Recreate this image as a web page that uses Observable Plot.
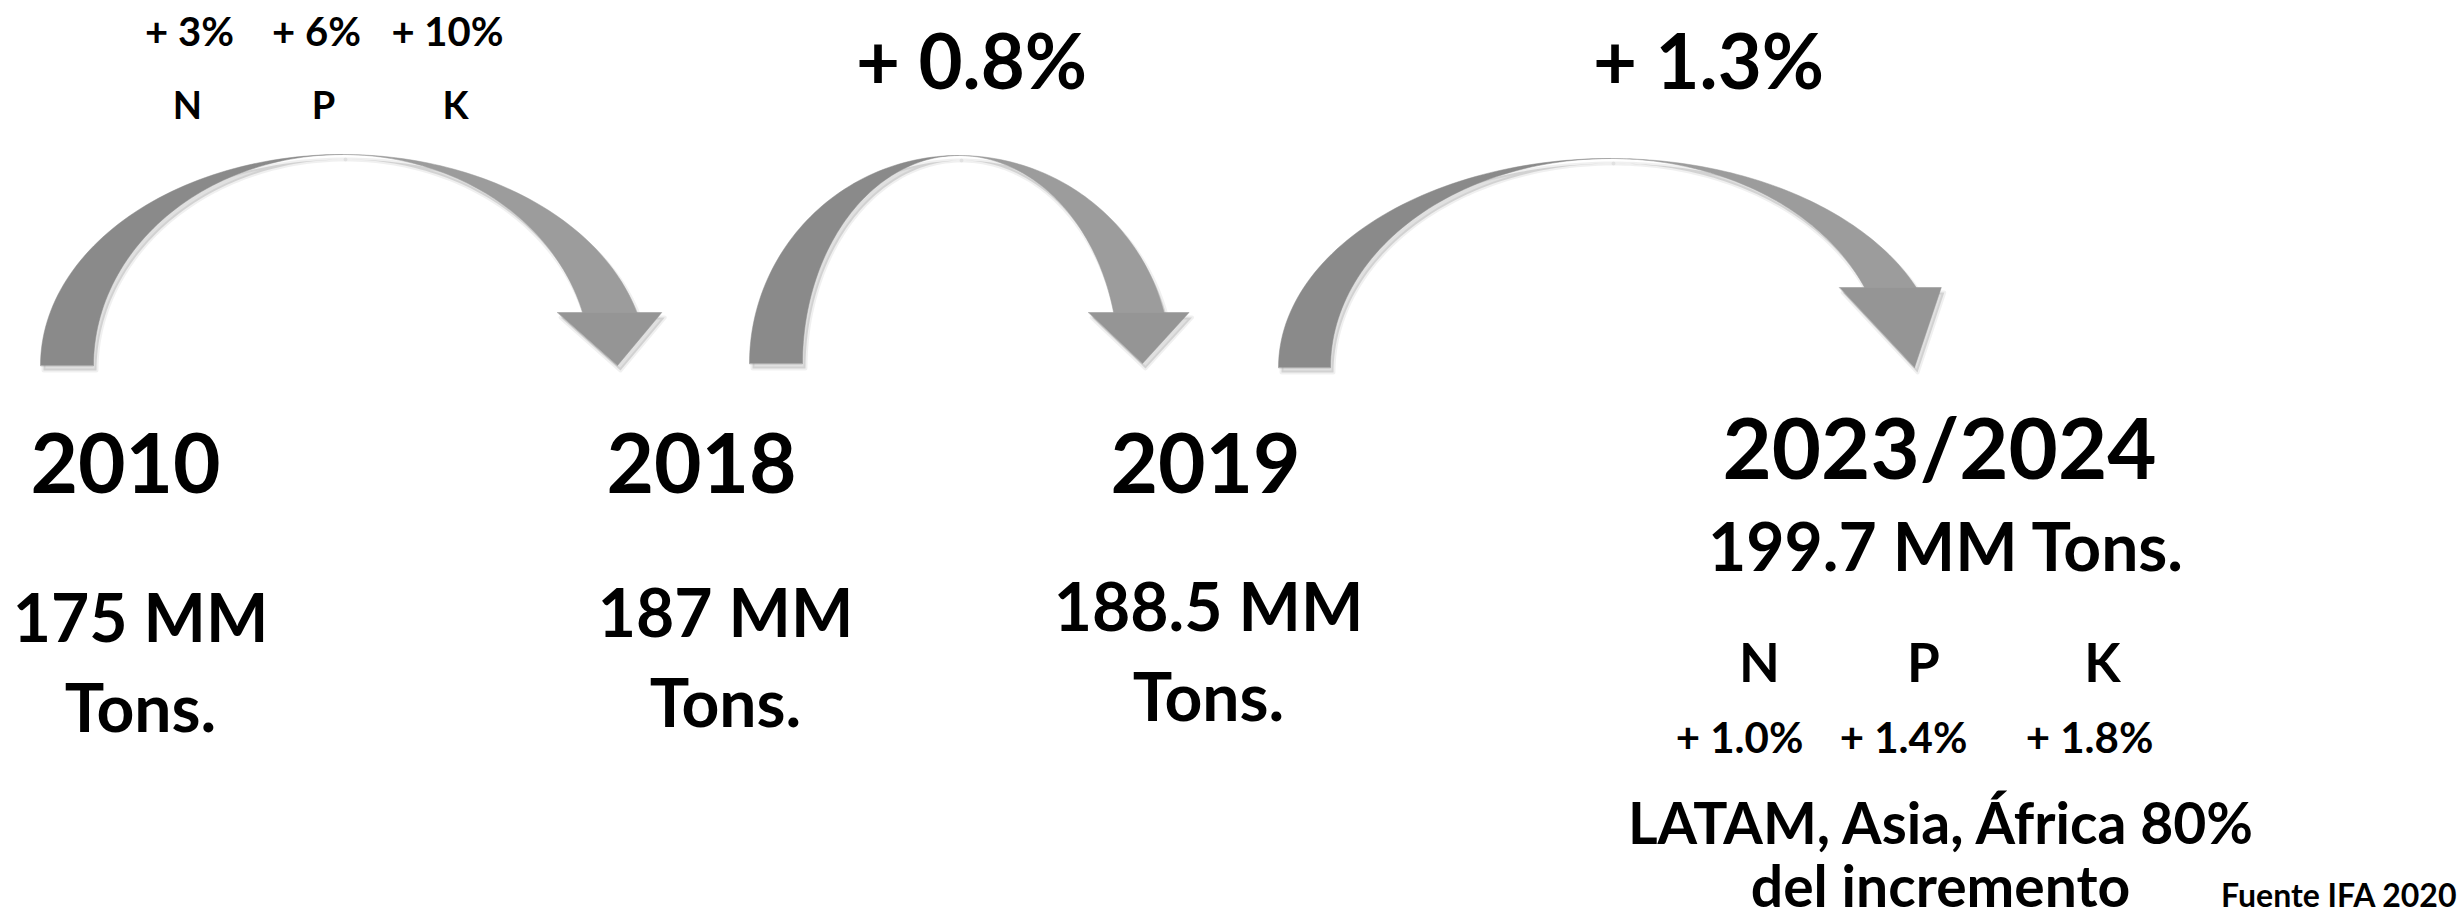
<!DOCTYPE html>
<html>
<head>
<meta charset="utf-8">
<script src="https://cdn.jsdelivr.net/npm/d3@7"></script>
<script src="https://cdn.jsdelivr.net/npm/@observablehq/plot@0.6"></script>
<style>
  html, body { margin: 0; padding: 0; background: #ffffff; }
  #chart svg { display: block; }
</style>
</head>
<body>
<div id="chart"></div>
<script>
// ---------------- data ----------------
const years = ["2010", "2018", "2019", "2023/2024"];
const tonnage = [175, 187, 188.5, 199.7];          // MM Tons.
const nutrients = ["N", "P", "K"];
const growth2010to2018 = ["+ 3%", "+ 6%", "+ 10%"]; // N, P, K
const growthTotal = ["+ 0.8%", "+ 1.3%"];          // 2018→2019, 2019→2023/2024
const growth2024 = ["+ 1.0%", "+ 1.4%", "+ 1.8%"]; // N, P, K
const noteLines = ["LATAM, Asia, África 80%", "del incremento"];
const sourceText = "Fuente IFA 2020";

// ---------------- layout (pixel space) ----------------
const W = 2461, H = 923;
const FONT = "Lato, 'Open Sans', sans-serif";
const yearX = [125, 701, 1205, 1939], yearY = [492, 492, 492, 478];
const tonX = [140, 725, 1208], tonY1 = [641, 636, 630], tonY2 = [731, 726, 720];
const ton4 = {x: 1945, y: 570};
const topPctX = [189, 316, 447], topPctY = 45;
const topNpkX = [187, 323, 455], topNpkY = 118;
const totalX = [971, 1708], totalY = 88;
const botNpkX = [1759, 1923, 2102], botNpkY = 681;
const botPctX = [1739, 1903, 2089], botPctY = 752;
const noteX = 1940, noteY = [843, 906];
const sourcePos = {x: 2456, y: 906};

// arrows: apex x, base y, vertical radius, left/right outer radii, thickness, head
const arrowLayout = [
  {cx: 342,  base: 365, ry: 211, rxL: 302, rxR: 304, tL: 53, tR: 56, headY: 312, headOut: 25, tipX: 617},
  {cx: 958,  base: 363, ry: 208, rxL: 209, rxR: 212, tL: 53, tR: 52, headY: 312, headOut: 25, tipX: 1142},
  {cx: 1610, base: 367, ry: 209, rxL: 332, rxR: 331, tL: 52, tR: 56, headY: 287, headOut: 25, tipX: 1914}
];

// build arrow polygons
const arrowPts = [];
arrowLayout.forEach((a, i) => {
  const n = 60;
  const L = [];
  for (let k = 0; k <= n; k++) { const th = (k / n) * Math.PI / 2; L.push([a.cx - a.rxL * Math.cos(th), a.base - a.ry * Math.sin(th)]); }
  for (let k = n; k >= 0; k--) { const th = (k / n) * Math.PI / 2; L.push([a.cx - (a.rxL - a.tL) * Math.cos(th), a.base - a.ry * Math.sin(th)]); }
  L.forEach(([x, y]) => arrowPts.push({id: `L${i}`, part: "left", x, y}));
  const thH = Math.asin((a.base - a.headY) / a.ry);
  const R = [];
  for (let k = 0; k <= n; k++) { const th = Math.PI / 2 - (k / n) * (Math.PI / 2 - thH); R.push([a.cx + a.rxR * Math.cos(th), a.base - a.ry * Math.sin(th)]); }
  for (let k = n; k >= 0; k--) { const th = Math.PI / 2 - (k / n) * (Math.PI / 2 - thH); R.push([a.cx + (a.rxR - a.tR) * Math.cos(th), a.base - a.ry * Math.sin(th)]); }
  R.forEach(([x, y]) => arrowPts.push({id: `R${i}`, part: "right", x, y}));
  const xo = a.cx + a.rxR * Math.cos(thH), xi = a.cx + (a.rxR - a.tR) * Math.cos(thH);
  [[xi - a.headOut, a.headY], [xo + a.headOut, a.headY], [a.tipX, a.base]]
    .forEach(([x, y]) => arrowPts.push({id: `H${i}`, part: "head", x, y}));
});

// text rows
const texts = [];
years.forEach((s, i) => texts.push({s, x: yearX[i], y: yearY[i], size: i === 3 ? 85 : 82}));
tonnage.slice(0, 3).forEach((t, i) => {
  texts.push({s: `${t} MM`, x: tonX[i], y: tonY1[i], size: 66});
  texts.push({s: "Tons.", x: tonX[i], y: tonY2[i], size: 66});
});
texts.push({s: `${tonnage[3]} MM Tons.`, x: ton4.x, y: ton4.y, size: 66});
growth2010to2018.forEach((s, i) => texts.push({s, x: topPctX[i], y: topPctY, size: 40}));
nutrients.forEach((s, i) => texts.push({s, x: topNpkX[i], y: topNpkY, size: 38}));
growthTotal.forEach((s, i) => texts.push({s, x: totalX[i], y: totalY, size: 76}));
nutrients.forEach((s, i) => texts.push({s, x: botNpkX[i], y: botNpkY, size: 53}));
growth2024.forEach((s, i) => texts.push({s, x: botPctX[i], y: botPctY, size: 42}));
noteLines.forEach((s, i) => texts.push({s, x: noteX, y: noteY[i], size: 57}));

const partFill = {left: "#8a8a8a", right: "#9c9c9c", head: "#959595"};

const plot = Plot.plot({
  width: W, height: H,
  margin: 0,
  x: {type: "linear", domain: [0, W], range: [0, W], axis: null},
  y: {type: "linear", domain: [0, H], range: [0, H], axis: null},
  style: {background: "#ffffff"},
  marks: [
    // soft shadow copies
    ...["left", "right", "head"].map(p => Plot.line(arrowPts.filter(d => d.part === p), {
      x: "x", y: "y", z: "id", curve: "linear-closed",
      fill: "#000000", fillOpacity: 0.12, stroke: "#000000", strokeOpacity: 0.06, strokeWidth: 4,
      dx: 3, dy: 5
    })),
    ...["left", "right", "head"].map(p => Plot.line(arrowPts.filter(d => d.part === p), {
      x: "x", y: "y", z: "id", curve: "linear-closed",
      fill: partFill[p], stroke: partFill[p], strokeWidth: 0.5
    })),
    Plot.text(texts, {
      x: "x", y: "y", text: "s", fontSize: "size",
      fontFamily: FONT, fontWeight: "bold", fill: "#000000",
      textAnchor: "middle", lineAnchor: "bottom"
    }),
    Plot.text([sourceText], {
      x: () => sourcePos.x, y: () => sourcePos.y, text: d => d,
      fontSize: 32, fontFamily: FONT, fontWeight: "bold", fill: "#000000",
      textAnchor: "end", lineAnchor: "bottom"
    })
  ]
});

document.getElementById("chart").appendChild(plot);
</script>
</body>
</html>
